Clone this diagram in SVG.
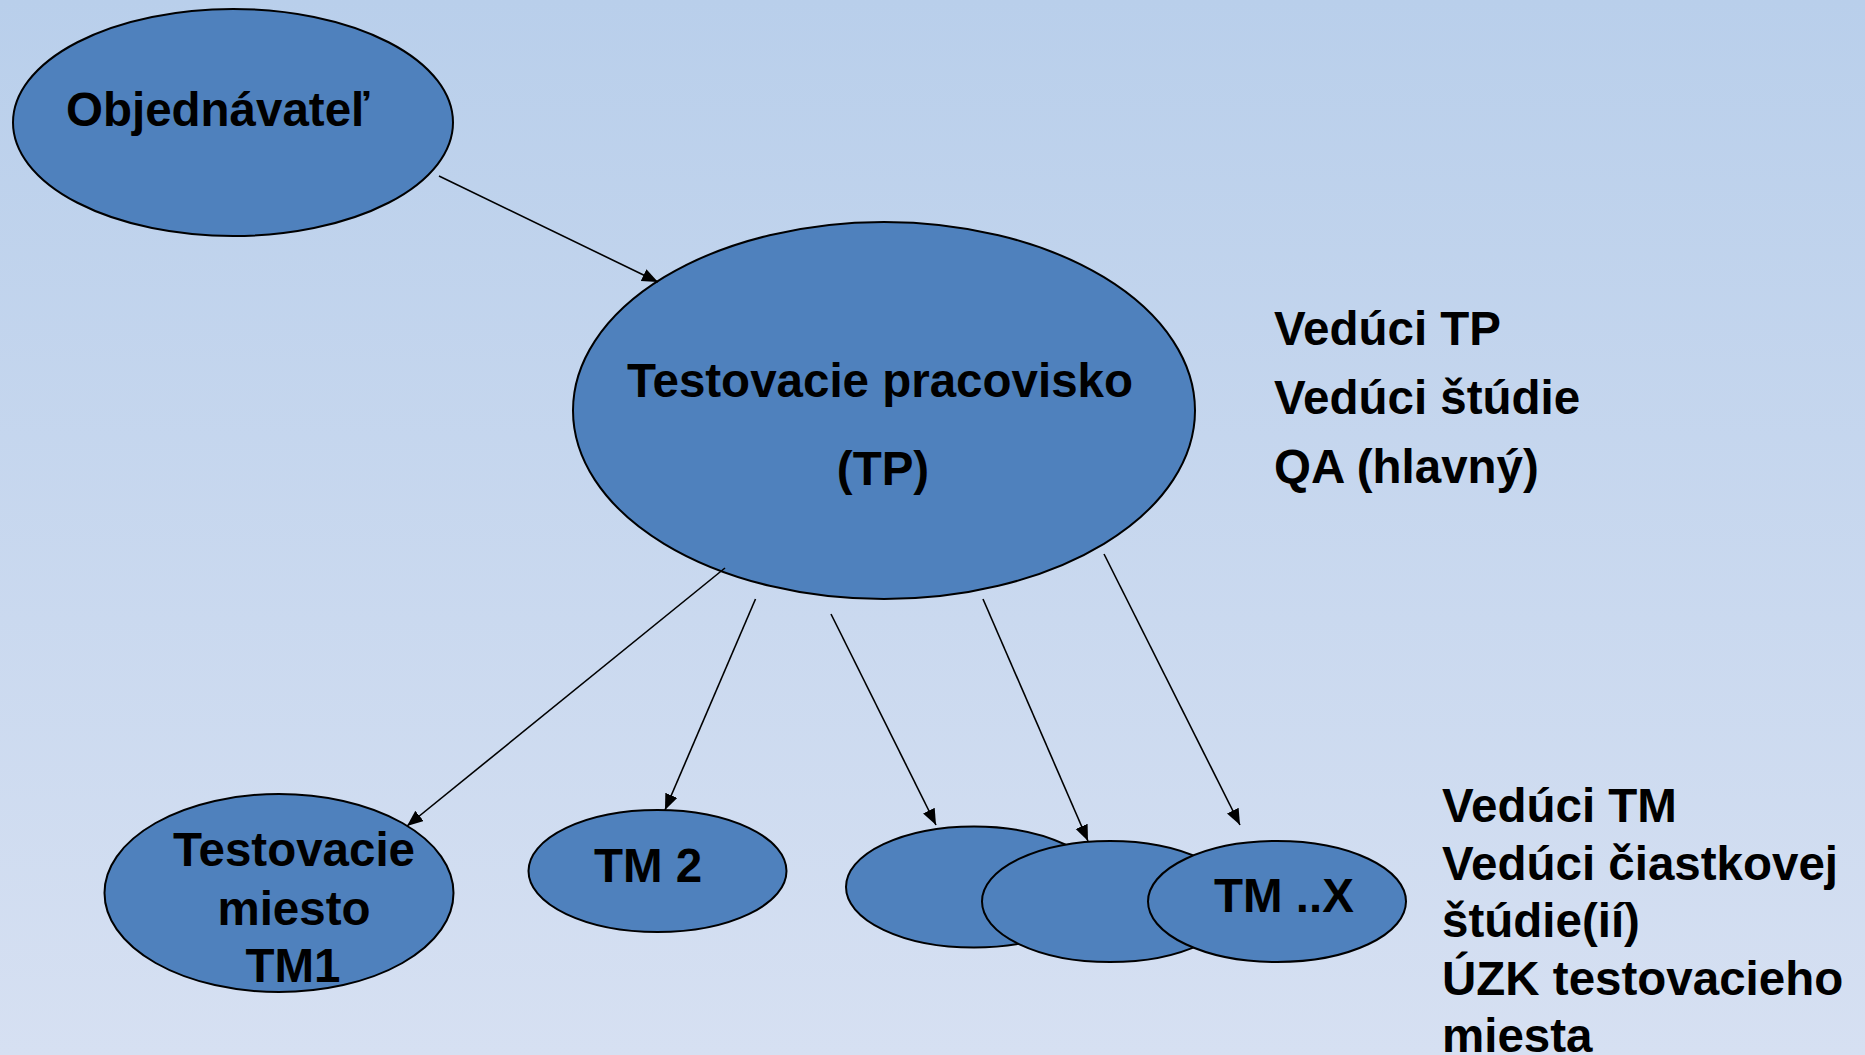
<svg xmlns="http://www.w3.org/2000/svg" width="1865" height="1055" viewBox="0 0 1865 1055">
  <defs>
    <linearGradient id="bg" x1="0" y1="0" x2="0" y2="1">
      <stop offset="0" stop-color="#B9CFEB"/>
      <stop offset="1" stop-color="#D6E0F2"/>
    </linearGradient>
    <marker id="arr" markerUnits="userSpaceOnUse" markerWidth="18" markerHeight="14" refX="16" refY="6.5" orient="auto">
      <path d="M0,0 L16,6.5 L0,13 z" fill="#000"/>
    </marker>
  </defs>
  <style>
    .node { fill: #4F81BD; stroke: #000; stroke-width: 2; }
    .lbl { font-family: "Liberation Sans", Arial, sans-serif; font-weight: bold; font-size: 47.5px; fill: #000; }
    .mid { text-anchor: middle; }
    .conn { stroke: #000; stroke-width: 1.6; fill: none; marker-end: url(#arr); }
  </style>
  <rect x="0" y="0" width="1865" height="1055" fill="url(#bg)"/>

  <g id="objednavatel">
    <ellipse class="node" cx="233" cy="122.5" rx="220" ry="113.5"/>
    <text class="lbl" x="66" y="126">Objednávateľ</text>
  </g>

  <g id="tp">
    <ellipse class="node" cx="884" cy="410.5" rx="311" ry="188.5"/>
    <text class="lbl mid" x="880" y="397">Testovacie pracovisko</text>
    <text class="lbl mid" x="883" y="485">(TP)</text>
  </g>

  <g id="tp-roles">
    <text class="lbl" x="1274" y="345">Vedúci TP</text>
    <text class="lbl" x="1274" y="414">Vedúci štúdie</text>
    <text class="lbl" x="1274" y="483">QA (hlavný)</text>
  </g>

  <g id="tm1">
    <ellipse class="node" cx="279" cy="893" rx="174.5" ry="99"/>
    <text class="lbl mid" x="294" y="866">Testovacie</text>
    <text class="lbl mid" x="294" y="925">miesto</text>
    <text class="lbl mid" x="293" y="982">TM1</text>
  </g>

  <g id="tm2">
    <ellipse class="node" cx="657.5" cy="871" rx="129" ry="61"/>
    <text class="lbl mid" x="648" y="882">TM 2</text>
  </g>

  <g id="tm-a">
    <ellipse class="node" cx="974" cy="887" rx="128" ry="60.5"/>
  </g>

  <g id="tm-b">
    <ellipse class="node" cx="1110" cy="901.5" rx="128" ry="60.5"/>
  </g>

  <g id="tm-x">
    <ellipse class="node" cx="1277" cy="901.5" rx="129" ry="60.5"/>
    <text class="lbl mid" x="1284" y="912">TM ..X</text>
  </g>

  <g id="tm-roles">
    <text class="lbl" x="1442" y="822">Vedúci TM</text>
    <text class="lbl" x="1442" y="880">Vedúci čiastkovej</text>
    <text class="lbl" x="1442" y="937">štúdie(ií)</text>
    <text class="lbl" x="1442" y="995">ÚZK testovacieho</text>
    <text class="lbl" x="1442" y="1052">miesta</text>
  </g>

  <g id="connectors">
    <line class="conn" x1="439" y1="176" x2="658" y2="282"/>
    <line class="conn" x1="725" y1="568" x2="407" y2="826"/>
    <line class="conn" x1="755.5" y1="599" x2="665" y2="810"/>
    <line class="conn" x1="831" y1="614" x2="936" y2="825"/>
    <line class="conn" x1="983" y1="599" x2="1088" y2="841"/>
    <line class="conn" x1="1104" y1="554" x2="1240" y2="825"/>
  </g>
</svg>
